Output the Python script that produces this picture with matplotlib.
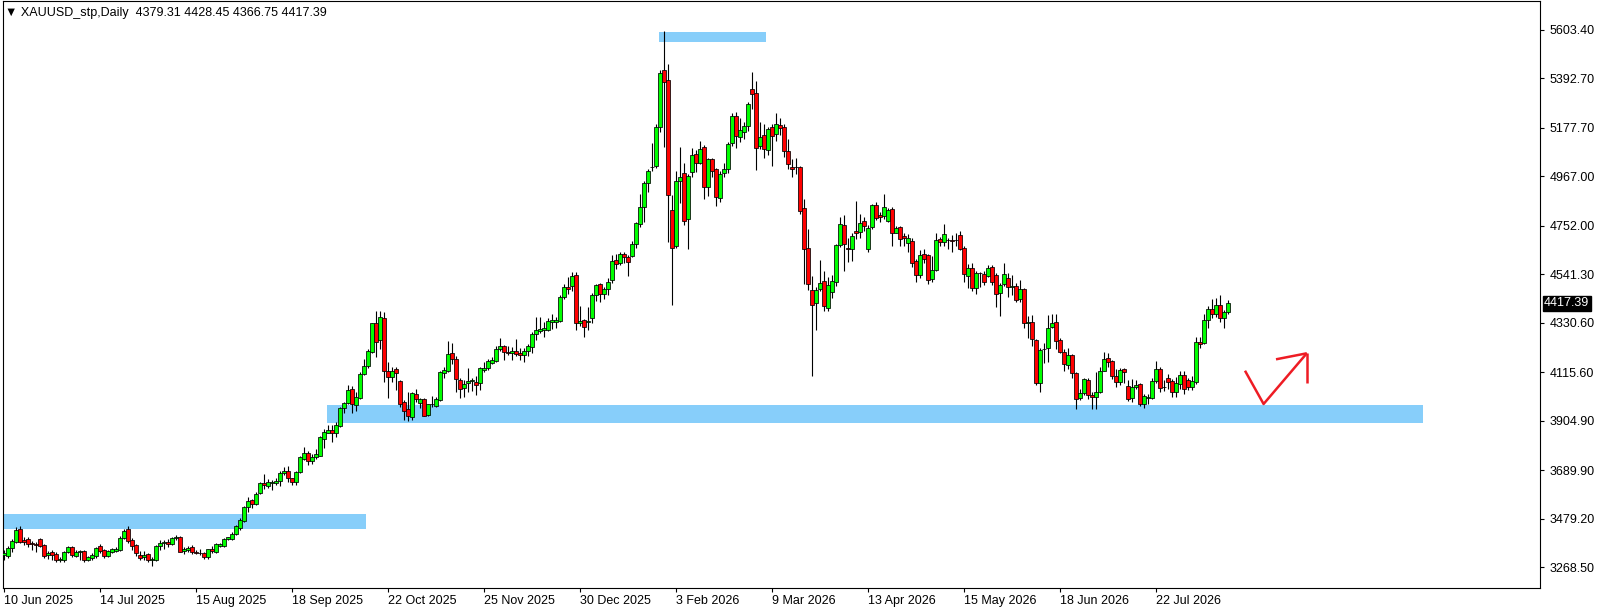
import matplotlib
matplotlib.use("Agg")
import matplotlib.pyplot as plt
from matplotlib.patches import Rectangle
import numpy as np

# ---------------- data ----------------
opens = [3320,3318,3354,3380,3435,3387,3391,3372,3368,3391,3365,3320,3336,3326,3300,3300,3336,3355,3318,3336,
         3340,3300,3307,3318,3361,3343,3318,3336,3338,3344,3397,3435,3387,3364,3322,3312,3325,3300,3300,3361,
         3375,3380,3370,3395,3401,3338,3344,3355,3334,3332,3330,3312,3350,3336,3362,3363,3390,3392,3413,3440,
         3471,3529,3561,3545,3590,3636,3622,3634,3634,3643,3677,3687,3655,3640,3681,3741,3764,3732,3746,3753,
         3827,3853,3865,3853,3882,3959,3981,4043,3973,4002,4107,4141,4205,4328,4256,4350,4123,4094,4128,4079,
         3985,3956,3920,4020,3984,3998,3930,3976,3969,3995,4114,4123,4198,4173,4082,4046,4068,4078,4073,4068,
         4125,4133,4158,4166,4218,4230,4202,4200,4206,4199,4189,4207,4224,4280,4296,4299,4299,4336,4336,4338,
         4444,4486,4491,4538,4331,4342,4335,4353,4451,4499,4457,4478,4515,4602,4589,4631,4615,4622,4671,4760,
         4832,4939,5006,5013,5180,5429,5385,4821,4666,4948,4980,4783,4987,5062,5026,5093,4922,5041,4999,4871,
         4980,5000,5110,5229,5139,5161,5187,5345,5327,5099,5145,5081,5183,5150,5188,5180,5077,5007,5006,5006,
         4828,4654,4473,4415,4476,4512,4395,4465,4509,4668,4755,4657,4650,4729,4724,4773,4650,4745,4842,4798,
         4794,4773,4825,4722,4745,4708,4676,4686,4599,4538,4629,4625,4519,4560,4695,4680,4690,4692,4690,4710,
         4654,4535,4567,4480,4546,4541,4535,4572,4538,4458,4497,4524,4488,4490,4434,4477,4330,4335,4256,4071,
         4215,4220,4311,4333,4256,4205,4147,4189,4111,4003,4024,4082,4017,4010,4031,4122,4176,4165,4099,4075,
         4128,4056,4003,4050,4065,3978,4006,4006,4078,4128,4050,4092,4078,4028,4064,4104,4082,4050,4075,4248,
         4244,4343,4389,4371,4408,4350,4379.31]
highs = [3345,3361,3390,3445,3448,3398,3401,3384,3380,3397,3368,3340,3345,3333,3312,3340,3362,3362,3345,3342,
         3345,3318,3330,3357,3368,3350,3345,3352,3358,3403,3436,3446,3394,3368,3341,3338,3330,3315,3365,3385,
         3388,3390,3401,3408,3405,3357,3362,3366,3345,3350,3336,3350,3360,3375,3375,3395,3402,3420,3452,3483,
         3535,3575,3567,3595,3640,3674,3652,3647,3655,3685,3705,3708,3658,3685,3750,3790,3775,3760,3782,3838,
         3870,3887,3887,3900,3967,3987,4060,4056,4030,4115,4175,4215,4330,4380,4380,4378,4160,4140,4140,4083,
         3995,4030,4030,4045,4005,4003,3980,4013,4010,4120,4140,4250,4245,4185,4090,4080,4135,4090,4100,4140,
         4160,4172,4180,4228,4265,4236,4230,4225,4260,4220,4220,4240,4290,4355,4355,4335,4350,4370,4355,4450,
         4500,4530,4550,4552,4405,4345,4400,4460,4500,4505,4485,4527,4627,4630,4640,4640,4625,4685,4770,4890,
         4945,5000,5110,5195,5430,5598,5455,4885,4990,5095,5025,4975,5090,5080,5120,5105,5045,5045,5005,4990,
         5025,5115,5240,5248,5220,5205,5290,5420,5380,5205,5195,5180,5195,5240,5220,5195,5130,5040,5045,5010,
         4870,4740,4535,4485,4603,4555,4530,4540,4675,4790,4800,4700,4720,4860,4805,4790,4755,4848,4855,4810,
         4890,4830,4835,4750,4750,4720,4715,4700,4608,4645,4650,4630,4620,4720,4705,4760,4700,4710,4720,4730,
         4665,4585,4590,4555,4553,4555,4580,4580,4545,4505,4590,4545,4538,4505,4515,4480,4360,4365,4260,4220,
         4245,4365,4370,4370,4265,4215,4220,4195,4115,4045,4090,4090,4030,4115,4140,4205,4200,4170,4130,4135,
         4135,4080,4085,4080,4070,4020,4020,4090,4163,4140,4080,4110,4085,4095,4120,4120,4090,4100,4270,4270,
         4370,4405,4435,4440,4450,4385,4428.45]
lows = [3300,3307,3336,3373,3373,3365,3358,3343,3333,3358,3307,3305,3300,3290,3290,3292,3330,3315,3312,3300,
        3290,3295,3302,3310,3330,3310,3312,3330,3333,3340,3390,3375,3344,3317,3300,3300,3290,3275,3295,3345,
        3350,3357,3365,3385,3333,3328,3336,3328,3325,3320,3305,3305,3330,3330,3357,3356,3385,3388,3408,3430,
        3465,3507,3525,3540,3585,3610,3612,3604,3628,3622,3670,3640,3625,3627,3676,3733,3715,3718,3737,3750,
        3788,3850,3813,3835,3877,3937,3976,3940,3947,3998,4102,4135,4200,4183,4215,4075,4003,4075,4040,3965,
        3908,3905,3908,3985,3960,3924,3925,3965,3965,3990,4090,4115,4152,4030,4003,4010,4030,4035,4015,4039,
        4115,4125,4150,4160,4208,4170,4190,4170,4185,4170,4160,4185,4200,4255,4285,4270,4295,4305,4310,4335,
        4432,4455,4470,4300,4315,4270,4300,4330,4425,4420,4435,4450,4505,4565,4580,4590,4535,4615,4655,4745,
        4770,4900,4990,5005,5160,5096,4680,4407,4655,4850,4755,4650,4965,4985,5020,4870,4880,4965,4840,4855,
        4965,4980,5100,5090,5115,5130,5165,5260,4995,5085,5045,5060,5010,5120,5145,5050,5000,4965,4975,4805,
        4500,4475,4100,4300,4470,4380,4380,4440,4490,4660,4555,4595,4600,4695,4700,4730,4640,4740,4775,4770,
        4780,4770,4665,4720,4665,4665,4640,4575,4510,4525,4590,4500,4510,4555,4665,4665,4650,4637,4665,4645,
        4510,4480,4470,4455,4488,4495,4530,4495,4400,4360,4490,4442,4452,4420,4420,4310,4263,4230,4060,4032,
        4158,4160,4310,4215,4200,4120,4130,4090,3955,3995,4015,4000,3955,3955,4025,4120,4140,4085,4050,4060,
        4070,3990,3985,4045,3970,3960,3980,4000,4070,4030,4035,4045,4010,4008,4045,4020,4040,4040,4065,4220,
        4238,4310,4350,4355,4335,4310,4366.75]
closes = [3330,3351,3383,3430,3380,3380,3368,3368,3366,3362,3318,3332,3322,3300,3305,3336,3355,3322,3336,3338,
          3300,3312,3320,3351,3339,3318,3341,3348,3348,3397,3428,3383,3362,3332,3310,3324,3300,3305,3361,3375,
          3377,3370,3394,3398,3336,3348,3352,3334,3332,3330,3312,3346,3338,3370,3370,3390,3398,3413,3448,3474,
          3529,3556,3543,3588,3633,3624,3637,3640,3643,3677,3687,3658,3640,3681,3746,3764,3732,3746,3761,3833,
          3855,3865,3853,3887,3959,3981,4039,3976,4008,4107,4141,4208,4328,4249,4354,4123,4097,4123,4111,3978,
          3949,3927,4024,3998,3998,3927,3976,3977,3998,4115,4125,4195,4172,4085,4042,4063,4078,4079,4060,4133,
          4133,4163,4167,4215,4230,4205,4200,4206,4195,4189,4207,4231,4282,4299,4305,4309,4338,4341,4342,4444,
          4487,4476,4533,4331,4338,4314,4336,4451,4495,4454,4477,4508,4599,4585,4628,4617,4596,4671,4763,4832,
          4938,4990,5009,5180,5417,5378,4886,4657,4947,4962,4774,4968,5059,5026,5086,4922,5042,4992,4879,4975,
          4999,5107,5229,5144,5168,5185,5281,5323,5088,5139,5084,5174,5142,5193,5175,5078,5019,4997,5007,4818,
          4650,4498,4408,4473,4505,4405,4495,4512,4668,4760,4673,4650,4708,4719,4766,4751,4741,4842,4787,4789,
          4832,4821,4719,4741,4693,4700,4701,4592,4538,4625,4608,4517,4560,4690,4683,4716,4691,4688,4691,4650,
          4541,4567,4480,4545,4545,4506,4567,4506,4454,4495,4541,4485,4489,4430,4476,4328,4331,4259,4071,4212,
          4217,4307,4328,4253,4205,4152,4189,4111,3998,4024,4085,4017,4007,4028,4121,4173,4162,4101,4075,4125,
          4118,3998,4050,4060,3978,4014,4007,4078,4128,4046,4051,4075,4028,4068,4104,4041,4053,4078,4249,4238,
          4343,4390,4369,4408,4350,4376,4417.39]

date_bars = [0, 24, 48, 72, 96, 120, 144, 168, 192, 216, 240, 264, 288]
date_labels = ["10 Jun 2025", "14 Jul 2025", "15 Aug 2025", "18 Sep 2025", "22 Oct 2025",
               "25 Nov 2025", "30 Dec 2025", "3 Feb 2026", "9 Mar 2026", "13 Apr 2026",
               "15 May 2026", "18 Jun 2026", "22 Jul 2026"]
price_ticks = [5603.40, 5392.70, 5177.70, 4967.00, 4752.00, 4541.30, 4330.60,
               4115.60, 3904.90, 3689.90, 3479.20, 3268.50]

# zones: (bar_start, bar_end, price_low, price_high)
zone_top = (163.75, 190.5, 5551.7, 5595.1)
zone_mid = (80.75, 354.75, 3895.3, 3973.5)
zone_low = (-0.5, 90.5, 3434.9, 3500.0)

# hand-drawn arrow (bar index, price)
arrow_v_x = [310.25, 314.9, 325.7]
arrow_v_y = [4122.5, 3977.9, 4198.1]
arrow_h1_x = [318.0, 325.7]
arrow_h1_y = [4172.0, 4198.1]
arrow_h2_x = [325.8, 325.8]
arrow_h2_y = [4198.0, 4067.8]

title = "XAUUSD_stp,Daily  4379.31 4428.45 4366.75 4417.39"
last_price = 4417.39

# ---------------- figure ----------------
W, H = 1604, 611
fig = plt.figure(figsize=(W / 100, H / 100), dpi=100)
fig.patch.set_facecolor("white")

ax_l, ax_r, ax_t, ax_b = 2.5, 1540.0, 0.5, 588.0
ax = fig.add_axes([ax_l / W, 1 - ax_b / H, (ax_r - ax_l) / W, (ax_b - ax_t) / H])
ax.set_facecolor("white")

def px_to_price(y):
    return 5603.4 - (y - 29.8) * 4.344

def px_to_bar(x):
    return (x - 4.0) / 4.0

ax.set_ylim(px_to_price(ax_b), px_to_price(ax_t))
ax.set_xlim(px_to_bar(ax_l), px_to_bar(ax_r))

zone_color = "#87cefa"
for (x0, x1, y0, y1) in (zone_top, zone_mid, zone_low):
    ax.add_patch(Rectangle((x0, y0), x1 - x0, y1 - y0, facecolor=zone_color,
                           edgecolor="none", zorder=1))

o = np.array(opens, float)
h = np.array(highs, float)
l = np.array(lows, float)
c = np.array(closes, float)
idx = np.arange(len(c))

ax.vlines(idx, l, h, color="black", linewidth=0.8, zorder=2)
up = c >= o
body_bottom = np.minimum(o, c)
body_h = np.maximum(np.abs(c - o), 2.0)
colors = np.where(up, "#00ff00", "#ff0000")
ax.bar(idx, body_h, bottom=body_bottom, width=0.8, color=colors,
       edgecolor="black", linewidth=0.55, zorder=3)

arrow_color = "#ee1c24"
for xs, ys in ((arrow_v_x, arrow_v_y), (arrow_h1_x, arrow_h1_y), (arrow_h2_x, arrow_h2_y)):
    ax.plot(xs, ys, color=arrow_color, linewidth=1.8, solid_capstyle="butt", zorder=4)

# axes styling
for side in ("left", "right", "bottom", "top"):
    ax.spines[side].set_color("black")
    ax.spines[side].set_linewidth(0.8)

font = ["Liberation Sans", "DejaVu Sans"]
ax.yaxis.tick_right()
ax.set_yticks(price_ticks)
ax.set_yticklabels([f"{v:.2f}" for v in price_ticks], family=font, fontsize=9)
ax.tick_params(axis="y", direction="out", length=3, width=0.8, pad=4, colors="black")

ax.set_xticks(date_bars)
ax.set_xticklabels(date_labels, family=font, fontsize=9, ha="left")
ax.tick_params(axis="x", direction="out", length=3, width=0.8, pad=2, colors="black")

# title
fig.text(5 / W, 1 - 13 / H, "\u25bc " + title, family=font, fontsize=9,
         va="center", ha="left", color="black")

# last price box
fig.text(1544 / W, 1 - 303 / H, f"{last_price:.2f}", family=font, fontsize=9,
         va="center", ha="left", color="white",
         bbox=dict(boxstyle="square,pad=0.12", facecolor="black", edgecolor="black"))

fig.savefig("out.png", dpi=100, facecolor="white")
